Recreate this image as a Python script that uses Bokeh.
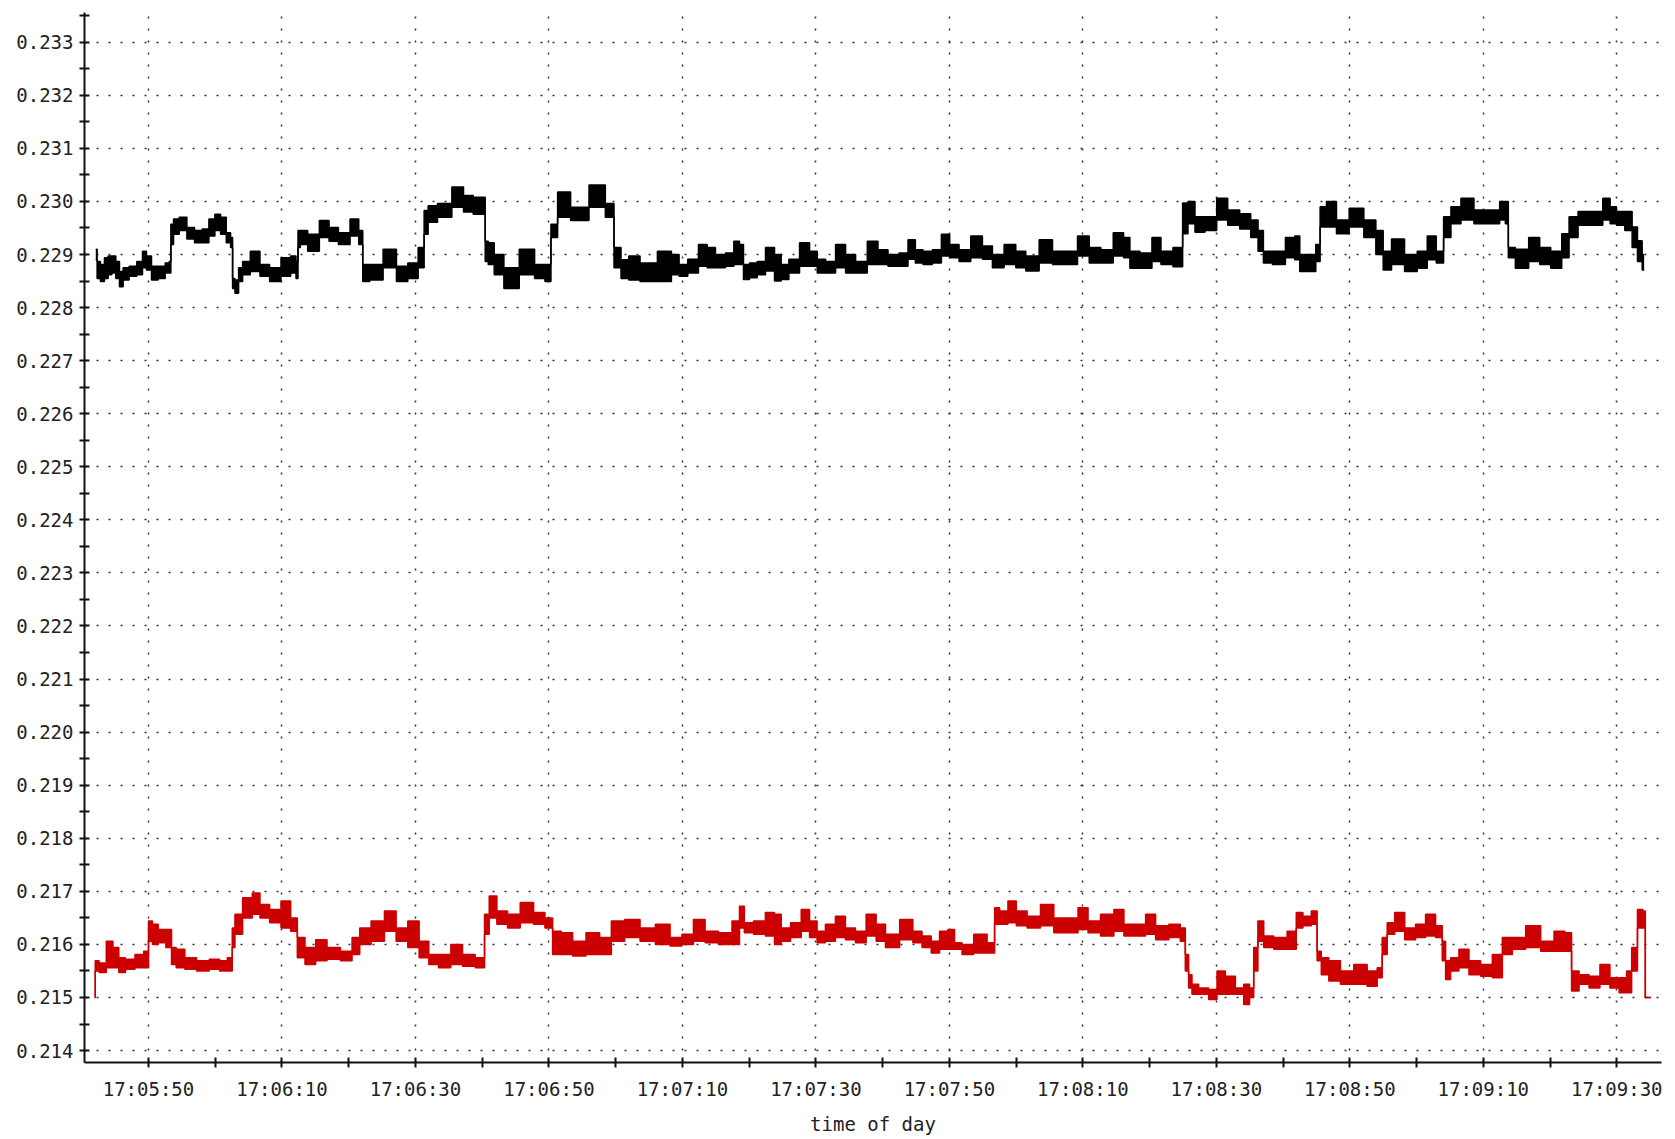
from bokeh.plotting import figure
from bokeh.models import FixedTicker, Range1d, ColumnDataSource, PrintfTickFormatter
from bokeh.embed import file_html
from bokeh.resources import INLINE

# x values: seconds after 17:05:50
x_tick_seconds = [0, 20, 40, 60, 80, 100, 120, 140, 160, 180, 200, 220]
x_tick_labels = ["17:05:50", "17:06:10", "17:06:30", "17:06:50", "17:07:10", "17:07:30",
                 "17:07:50", "17:08:10", "17:08:30", "17:08:50", "17:09:10", "17:09:30"]
y_tick_values = [0.214, 0.215, 0.216, 0.217, 0.218, 0.219, 0.220, 0.221, 0.222, 0.223,
                 0.224, 0.225, 0.226, 0.227, 0.228, 0.229, 0.230, 0.231, 0.232, 0.233]
x_label = "time of day"

black_t = [-7.9, -7.5, -6.9, -6.3, -5.8, -5.2, -4.6, -4.1, -3.5, -2.3, -1.2, -0.6, 0.0, 0.9, 2.0, 3.0, 3.2,
           3.5, 4.0, 5.2, 6.3, 7.5, 8.6, 9.5, 10.4, 11.2, 12.1, 12.5, 12.7, 13.2, 13.8, 14.4, 16.1, 17.3,
           19.0, 20.7, 21.9, 22.3, 22.5, 23.0, 24.7, 26.5, 27.6, 29.3, 31.1, 31.9, 32.3, 34.0, 36.3, 38.0,
           39.7, 41.1, 41.5, 42.3, 44.3, 46.6, 47.8, 49.5, 50.3, 50.6, 51.2, 52.4, 54.1, 57.0, 58.7, 60.1,
           60.5, 62.1, 64.4, 67.6, 69.3, 70.2, 71.4, 72.5, 74.8, 77.7, 79.0,
           80.0, 81.6, 83.2, 84.2, 85.7, 87.2, 88.2, 88.9, 89.4, 90.7, 91.7, 93.2, 94.4, 95.2, 96.7, 98.4,
           99.7, 100.7, 102.2, 103.7, 105.2, 106.7, 108.7, 109.9, 111.7, 113.2, 114.4, 115.4, 116.7, 118.2,
           119.4, 120.7, 122.2, 124.2, 125.7, 127.2, 129.2, 130.7, 132.2, 134.7, 136.2, 138.2, 140.2, 141.7,
           143.7, 145.4,
           146.8, 147.3, 149.8, 150.9, 152.5, 154.5, 155.4, 156.1, 157.5, 159.1, 161.0, 162.4, 164.6, 165.7,
           166.8, 167.3, 169.5, 171.2, 172.3, 172.7, 174.5, 175.3, 175.8, 177.2, 178.8, 181.0, 183.2, 184.6,
           185.4, 187.1, 189.3, 190.9, 192.3, 193.6, 194.5, 195.8, 197.5, 199.7, 201.9, 203.0, 203.6, 203.9,
           205.7, 207.9, 209.0, 211.2, 212.3, 213.4, 215.0, 217.2, 218.6, 219.4, 220.5, 221.9, 222.7, 223.5,
           224.1]
black_hi = [0.22910, 0.22887, 0.22881, 0.22894, 0.22897, 0.22897, 0.22887, 0.22868, 0.22875, 0.22878, 0.22887,
            0.22906, 0.22897, 0.22878, 0.22878, 0.22884, 0.22887,
            0.22957, 0.22967, 0.22970, 0.22951, 0.22945, 0.22948, 0.22967, 0.22976, 0.22970, 0.22941, 0.22932,
            0.22855, 0.22852, 0.22875, 0.22887, 0.22906, 0.22881,
            0.22875, 0.22894, 0.22897, 0.22887, 0.22945, 0.22945, 0.22938, 0.22964, 0.22951, 0.22941, 0.22967,
            0.22945, 0.22881, 0.22881, 0.22910, 0.22878,
            0.22884, 0.22913, 0.22983, 0.22992, 0.22996, 0.23027, 0.23011, 0.23008, 0.23008, 0.22925, 0.22922,
            0.22900, 0.22875, 0.22910, 0.22881, 0.22881,
            0.22957, 0.23018, 0.22989, 0.23031, 0.22996, 0.22913, 0.22890, 0.22897, 0.22884, 0.22906, 0.22900,
            0.22881, 0.22891, 0.22919, 0.22913, 0.22900, 0.22903, 0.22925, 0.22919, 0.22881, 0.22884, 0.22887,
            0.22913, 0.22900, 0.22881, 0.22891, 0.22922,
            0.22906, 0.22891, 0.22887, 0.22919, 0.22900, 0.22887, 0.22925, 0.22909, 0.22900, 0.22903, 0.22928,
            0.22909, 0.22906, 0.22909,
            0.22938, 0.22919, 0.22909, 0.22935, 0.22916, 0.22900, 0.22919, 0.22906, 0.22897, 0.22928, 0.22906,
            0.22906, 0.22935, 0.22913,
            0.22909, 0.22941,
            0.22932, 0.22906, 0.22903, 0.22932, 0.22906, 0.22913, 0.22997, 0.23000, 0.22971, 0.22971, 0.23006,
            0.22984, 0.22977, 0.22965,
            0.22945, 0.22906, 0.22906, 0.22932, 0.22935, 0.22900, 0.22900, 0.22919, 0.22990, 0.23000, 0.22965,
            0.22987, 0.22965, 0.22945,
            0.22906, 0.22929, 0.22900, 0.22906, 0.22935, 0.22906, 0.22971, 0.22990, 0.23006, 0.22984, 0.22984,
            0.23000, 0.23000, 0.22913,
            0.22910, 0.22932, 0.22913, 0.22906, 0.22939, 0.22971, 0.22981, 0.22981, 0.23006, 0.22990, 0.22981,
            0.22981, 0.22952, 0.22926,
            0.22900]
black_lo = [0.22890, 0.22855, 0.22849, 0.22855, 0.22862, 0.22865, 0.22855, 0.22839, 0.22852, 0.22859, 0.22862,
            0.22875, 0.22871, 0.22852, 0.22855, 0.22865, 0.22865,
            0.22919, 0.22938, 0.22945, 0.22929, 0.22922, 0.22922, 0.22935, 0.22945, 0.22938, 0.22922, 0.22913,
            0.22836, 0.22827, 0.22849, 0.22862, 0.22868, 0.22859,
            0.22849, 0.22859, 0.22865, 0.22855, 0.22913, 0.22919, 0.22906, 0.22932, 0.22925, 0.22919, 0.22935,
            0.22919, 0.22849, 0.22852, 0.22875, 0.22849,
            0.22855, 0.22875, 0.22938, 0.22961, 0.22970, 0.22989, 0.22980, 0.22976, 0.22976, 0.22887, 0.22881,
            0.22862, 0.22836, 0.22862, 0.22855, 0.22849,
            0.22932, 0.22970, 0.22964, 0.22989, 0.22970, 0.22875, 0.22855, 0.22852, 0.22849, 0.22849, 0.22862,
            0.22859, 0.22865, 0.22878, 0.22875, 0.22875, 0.22878, 0.22881, 0.22881, 0.22853, 0.22856, 0.22862,
            0.22869, 0.22850, 0.22853, 0.22865, 0.22878,
            0.22878, 0.22865, 0.22865, 0.22875, 0.22865, 0.22865, 0.22881, 0.22881, 0.22878, 0.22878, 0.22891,
            0.22884, 0.22881, 0.22884,
            0.22897, 0.22894, 0.22887, 0.22894, 0.22891, 0.22875, 0.22881, 0.22875, 0.22869, 0.22884, 0.22881,
            0.22881, 0.22897, 0.22884,
            0.22884, 0.22897,
            0.22894, 0.22874, 0.22874, 0.22887, 0.22881, 0.22877, 0.22939, 0.22958, 0.22942, 0.22945, 0.22965,
            0.22955, 0.22948, 0.22932,
            0.22906, 0.22884, 0.22881, 0.22894, 0.22890, 0.22868, 0.22868, 0.22887, 0.22952, 0.22952, 0.22939,
            0.22952, 0.22932, 0.22900,
            0.22871, 0.22881, 0.22868, 0.22874, 0.22890, 0.22884, 0.22932, 0.22958, 0.22965, 0.22958, 0.22958,
            0.22965, 0.22958, 0.22894,
            0.22874, 0.22887, 0.22881, 0.22874, 0.22894, 0.22932, 0.22955, 0.22955, 0.22965, 0.22958, 0.22955,
            0.22945, 0.22913, 0.22887,
            0.22871]

red_t = [-8.06, -7.9, -6.9, -5.75, -4.9, -4.0, -2.9, -1.15, -0.3, 0.3, 0.9, 2.0, 3.2, 3.7, 4.6, 6.3, 8.1,
         10.1, 11.2, 12.4, 12.7, 13.2, 15.0, 16.1, 17.3, 19.0, 20.7, 21.9, 22.7, 24.2, 25.9, 27.6, 29.9,
         31.1, 32.2, 34.5, 36.2, 38.0, 39.7, 41.4, 42.6, 44.3, 46.3, 47.8, 50.1, 50.6, 51.5, 52.9, 54.7,
         56.7, 58.7, 60.1, 61.0, 62.7, 64.4, 66.7, 68.5, 70.2, 72.5, 74.8, 77.1, 79.2, 80.65, 82.65, 84.15,
         86.65, 88.2, 88.9, 89.65, 91.65, 93.2, 94.4, 95.2, 97.2, 98.4, 99.7, 100.65, 102.2, 103.65, 105.2,
         106.65, 108.4, 109.65, 111.2, 113.9, 115.15, 116.65, 117.9, 119.15, 120.4, 121.15, 122.65, 124.65,
         126.65, 126.9, 128.15, 129.4, 130.65, 132.65, 134.65, 136.65, 138.65, 139.9, 141.65, 143.65,
         145.65, 146.65, 148.65, 150.15, 151.65, 154.1, 155.1, 155.6, 156.1, 156.6, 158.1, 159.6, 160.6,
         162.1, 163.6, 164.6, 165.35, 165.85, 166.6, 167.6, 169.6, 171.6, 172.35, 173.6, 174.85, 175.35,
         176.1, 177.6, 179.6, 181.6, 183.6, 184.6, 185.1, 186.1, 187.35, 189.1, 190.6, 192.1, 193.6, 194.1,
         194.6, 195.6, 197.1, 198.6, 200.6, 202.1, 203.6, 205.1, 207.6, 209.6, 211.6, 212.85, 213.6, 215.1,
         216.6, 218.35, 219.6, 221.1, 221.85, 222.6, 223.6, 224.2, 224.35, 225.1]
red_hi = [0.21500, 0.21569, 0.21565, 0.21606, 0.21594, 0.21575, 0.21572, 0.21581, 0.21587, 0.21644, 0.21638,
          0.21628, 0.21628, 0.21594, 0.21591, 0.21575, 0.21569,
          0.21572, 0.21569, 0.21575, 0.21631, 0.21657, 0.21688, 0.21697, 0.21675, 0.21666, 0.21682, 0.21650,
          0.21613, 0.21594, 0.21609, 0.21594, 0.21587,
          0.21613, 0.21631, 0.21644, 0.21663, 0.21631, 0.21644, 0.21606, 0.21581, 0.21581, 0.21600, 0.21581,
          0.21575, 0.21657, 0.21691, 0.21663, 0.21657,
          0.21679, 0.21660, 0.21650, 0.21625, 0.21622, 0.21606, 0.21622, 0.21613, 0.21644, 0.21647, 0.21631,
          0.21638, 0.21613, 0.21619, 0.21647, 0.21625,
          0.21622, 0.21644, 0.21672, 0.21641, 0.21644, 0.21660, 0.21657, 0.21631, 0.21641, 0.21666, 0.21644,
          0.21625, 0.21638, 0.21653, 0.21631,
          0.21625, 0.21657, 0.21638, 0.21619, 0.21647, 0.21625, 0.21616, 0.21606, 0.21625, 0.21628, 0.21603,
          0.21600, 0.21619,
          0.21603, 0.21669, 0.21663, 0.21682, 0.21663, 0.21653, 0.21675, 0.21650, 0.21650, 0.21669, 0.21644,
          0.21657,
          0.21666, 0.21638, 0.21638, 0.21657, 0.21635, 0.21638, 0.21631, 0.21581, 0.21543, 0.21525, 0.21518,
          0.21515, 0.21550,
          0.21540, 0.21518, 0.21525, 0.21518, 0.21594, 0.21644, 0.21616, 0.21613, 0.21625, 0.21660, 0.21653,
          0.21663, 0.21587,
          0.21575, 0.21569, 0.21550, 0.21562, 0.21550, 0.21556, 0.21613, 0.21641, 0.21660, 0.21631, 0.21638,
          0.21657, 0.21635, 0.21606,
          0.21569, 0.21575, 0.21591, 0.21569, 0.21562, 0.21581, 0.21613, 0.21613, 0.21635, 0.21606, 0.21625,
          0.21622, 0.21550, 0.21543,
          0.21540, 0.21562, 0.21537, 0.21537, 0.21550, 0.21594, 0.21666, 0.21663, 0.21500, 0.21500]
red_lo = [0.21500, 0.21550, 0.21547, 0.21556, 0.21556, 0.21547, 0.21553, 0.21556, 0.21556, 0.21606, 0.21600,
          0.21603, 0.21594, 0.21562, 0.21556, 0.21553, 0.21550,
          0.21553, 0.21550, 0.21550, 0.21594, 0.21619, 0.21650, 0.21657, 0.21650, 0.21641, 0.21631, 0.21625,
          0.21575, 0.21562, 0.21569, 0.21572, 0.21569,
          0.21581, 0.21600, 0.21606, 0.21625, 0.21606, 0.21594, 0.21575, 0.21562, 0.21556, 0.21562, 0.21559,
          0.21556, 0.21619, 0.21650, 0.21638, 0.21631,
          0.21641, 0.21638, 0.21631, 0.21581, 0.21581, 0.21578, 0.21581, 0.21581, 0.21606, 0.21613, 0.21606,
          0.21600, 0.21597, 0.21600, 0.21606, 0.21603,
          0.21600, 0.21600, 0.21631, 0.21622, 0.21619, 0.21616, 0.21600, 0.21606, 0.21613, 0.21625, 0.21613,
          0.21603, 0.21606, 0.21613, 0.21609,
          0.21603, 0.21616, 0.21606, 0.21594, 0.21609, 0.21603, 0.21594, 0.21584, 0.21591, 0.21591, 0.21591,
          0.21581, 0.21584,
          0.21584, 0.21638, 0.21638, 0.21641, 0.21635, 0.21631, 0.21635, 0.21622, 0.21622, 0.21628, 0.21622,
          0.21616,
          0.21625, 0.21616, 0.21616, 0.21619, 0.21609, 0.21613, 0.21606, 0.21550, 0.21518, 0.21506, 0.21506,
          0.21496, 0.21506,
          0.21506, 0.21506, 0.21487, 0.21500, 0.21550, 0.21606, 0.21594, 0.21591, 0.21591, 0.21631, 0.21635,
          0.21638, 0.21569,
          0.21543, 0.21531, 0.21525, 0.21525, 0.21521, 0.21537, 0.21581, 0.21619, 0.21625, 0.21609, 0.21613,
          0.21616, 0.21613, 0.21569,
          0.21534, 0.21550, 0.21556, 0.21543, 0.21540, 0.21537, 0.21581, 0.21591, 0.21594, 0.21587, 0.21587,
          0.21587, 0.21512, 0.21525,
          0.21518, 0.21525, 0.21518, 0.21509, 0.21509, 0.21550, 0.21631, 0.21631, 0.21500, 0.21500]

BLACK = "#000000"
RED = "#cc0000"
FONT = "DejaVu Sans Mono"

p = figure(frame_width=1577, frame_height=1050,
           x_range=Range1d(-9.59, 226.7), y_range=Range1d(0.213775, 0.23356),
           output_backend="svg", toolbar_location=None,
           min_border_left=84, min_border_right=6, min_border_top=12, min_border_bottom=60)
p.outline_line_color = None
p.background_fill_color = "white"
p.border_fill_color = "white"

for tt, lo, hi, col in ((black_t, black_lo, black_hi, BLACK), (red_t, red_lo, red_hi, RED)):
    src = ColumnDataSource(dict(t=tt, lo=lo, hi=hi))
    p.varea_step(x="t", y1="lo", y2="hi", source=src, fill_color=col, fill_alpha=1.0,
                 step_mode="center")
    p.step(x="t", y="hi", source=src, line_color=col, line_width=1.5, mode="center")
    p.step(x="t", y="lo", source=src, line_color=col, line_width=1.5, mode="center")

x_minor = [s + 10 for s in x_tick_seconds if s + 10 < 226]
y_minor = [round(v + 0.0005, 4) for v in y_tick_values]
p.xaxis.ticker = FixedTicker(ticks=x_tick_seconds, minor_ticks=x_minor)
p.xaxis.major_label_overrides = {s: lab for s, lab in zip(x_tick_seconds, x_tick_labels)}
p.yaxis.ticker = FixedTicker(ticks=y_tick_values, minor_ticks=y_minor)
p.yaxis.formatter = PrintfTickFormatter(format="%.3f")
p.xaxis.axis_label = x_label

for ax in (p.xaxis, p.yaxis):
    ax.axis_line_color = "#111111"
    ax.axis_line_width = 2
    ax.major_tick_line_color = "#111111"
    ax.major_tick_line_width = 2
    ax.minor_tick_line_color = "#111111"
    ax.minor_tick_line_width = 2
    ax.major_tick_in = 5
    ax.major_tick_out = 5
    ax.minor_tick_in = 5
    ax.minor_tick_out = 5
    ax.major_label_text_font = FONT
    ax.major_label_text_font_size = "19px"
    ax.major_label_text_color = "#222222"
    ax.axis_label_text_font = FONT
    ax.axis_label_text_font_size = "19px"
    ax.axis_label_text_font_style = "normal"
    ax.axis_label_text_color = "#222222"

p.yaxis.major_label_standoff = 6
p.xaxis.major_label_standoff = 10
p.xaxis.axis_label_standoff = 10

for g in (p.xgrid, p.ygrid):
    g.grid_line_color = "#333333"
    g.grid_line_width = 1.5
    g.grid_line_dash = "2 10"

open("out.html", "w").write(file_html(p, INLINE))
